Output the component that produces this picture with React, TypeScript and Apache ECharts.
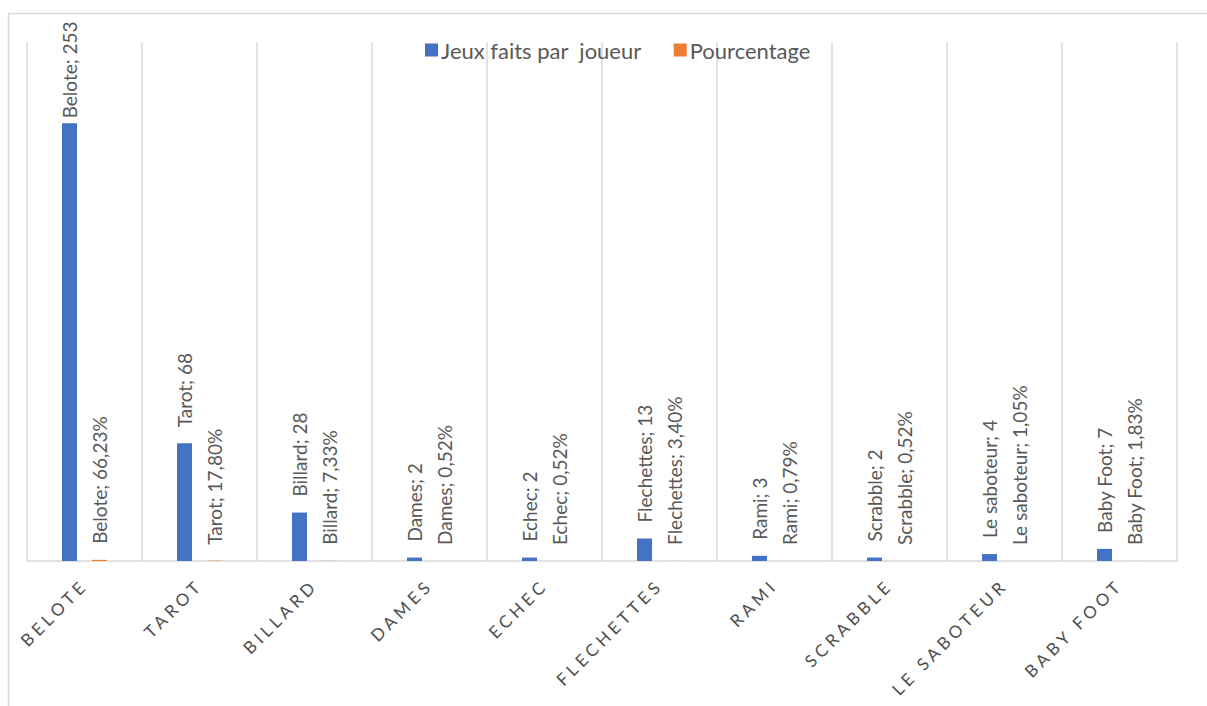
import React, { useEffect, useRef } from "react";
import * as echarts from "echarts";

const categories = ["Belote", "Tarot", "Billard", "Dames", "Echec", "Flechettes", "Rami", "Scrabble", "Le saboteur", "Baby Foot"];
const jeux = [253, 68, 28, 2, 2, 13, 3, 2, 4, 7];
const pourcentage = [66.23, 17.8, 7.33, 0.52, 0.52, 3.4, 0.79, 0.52, 1.05, 1.83];
const seriesNames = ["Jeux faits par  joueur", "Pourcentage"];

const LABEL_COLOR = "#595959";
const GRID_COLOR = "#d9d9d9";

export default function App() {
  const ref = useRef<HTMLDivElement>(null);
  useEffect(() => {
    if (!ref.current) return;
    const chart = echarts.init(ref.current, null, { renderer: "svg" });
    const labelBase = {
      show: true,
      position: "top",
      rotate: 90,
      align: "left",
      verticalAlign: "middle",
      distance: 16,
      color: LABEL_COLOR,
      fontFamily: "Lato",
      fontSize: 19,
    };
    chart.setOption({
      animation: false,
      backgroundColor: "#ffffff",
      graphic: [
        {
          type: "rect",
          shape: { x: 8.5, y: 13.5, width: 1400, height: 900 },
          style: { fill: "none", stroke: GRID_COLOR, lineWidth: 1.5 },
          silent: true,
        },
      ],
      legend: {
        left: 420,
        top: 34,
        icon: "rect",
        itemWidth: 13,
        itemHeight: 13,
        itemGap: 32,
        textStyle: { color: LABEL_COLOR, fontFamily: "Lato", fontSize: 22, padding: [0, 0, 0, -2] },
        data: seriesNames,
      },
      grid: { left: 27, right: 30, top: 42, bottom: 145, containLabel: false },
      xAxis: {
        type: "category",
        data: categories,
        axisLine: { show: true, lineStyle: { color: GRID_COLOR, width: 1.5 } },
        axisTick: { show: false },
        splitLine: { show: true, lineStyle: { color: GRID_COLOR, width: 1.5 } },
        axisLabel: {
          rotate: 45,
          margin: 21,
          color: "#505050",
          fontFamily: "Lato",
          fontSize: 17,
          interval: 0,
          formatter: (v: string) => v.toUpperCase(),
        },
      },
      yAxis: {
        type: "value",
        min: 0,
        max: 300,
        show: false,
        splitLine: { show: false },
      },
      series: [
        {
          name: seriesNames[0],
          type: "bar",
          barWidth: 15,
          barGap: "100%",
          itemStyle: { color: "#4472C4" },
          label: {
            ...labelBase,
            formatter: (p: any) => `${p.name}; ${p.value}`,
          },
          data: jeux.map((v, i) => (i === 0 ? { value: v, label: { distance: 5 } } : v)),
        },
        {
          name: seriesNames[1],
          type: "bar",
          barWidth: 15,
          itemStyle: { color: "#ED7D31" },
          label: {
            ...labelBase,
            formatter: (p: any) => `${p.name}; ${(p.value * 100).toFixed(2).replace(".", ",")}%`,
          },
          data: pourcentage.map((v) => v / 100),
        },
      ],
    });
    return () => chart.dispose();
  }, []);
  return (
    <>
      <style>{'.chartbox svg text[text-anchor="end"]{letter-spacing:4.1px}'}</style>
      <div className="chartbox" ref={ref} style={{ position: "fixed", left: 0, top: 0, width: 1207, height: 706 }} />
    </>
  );
}
